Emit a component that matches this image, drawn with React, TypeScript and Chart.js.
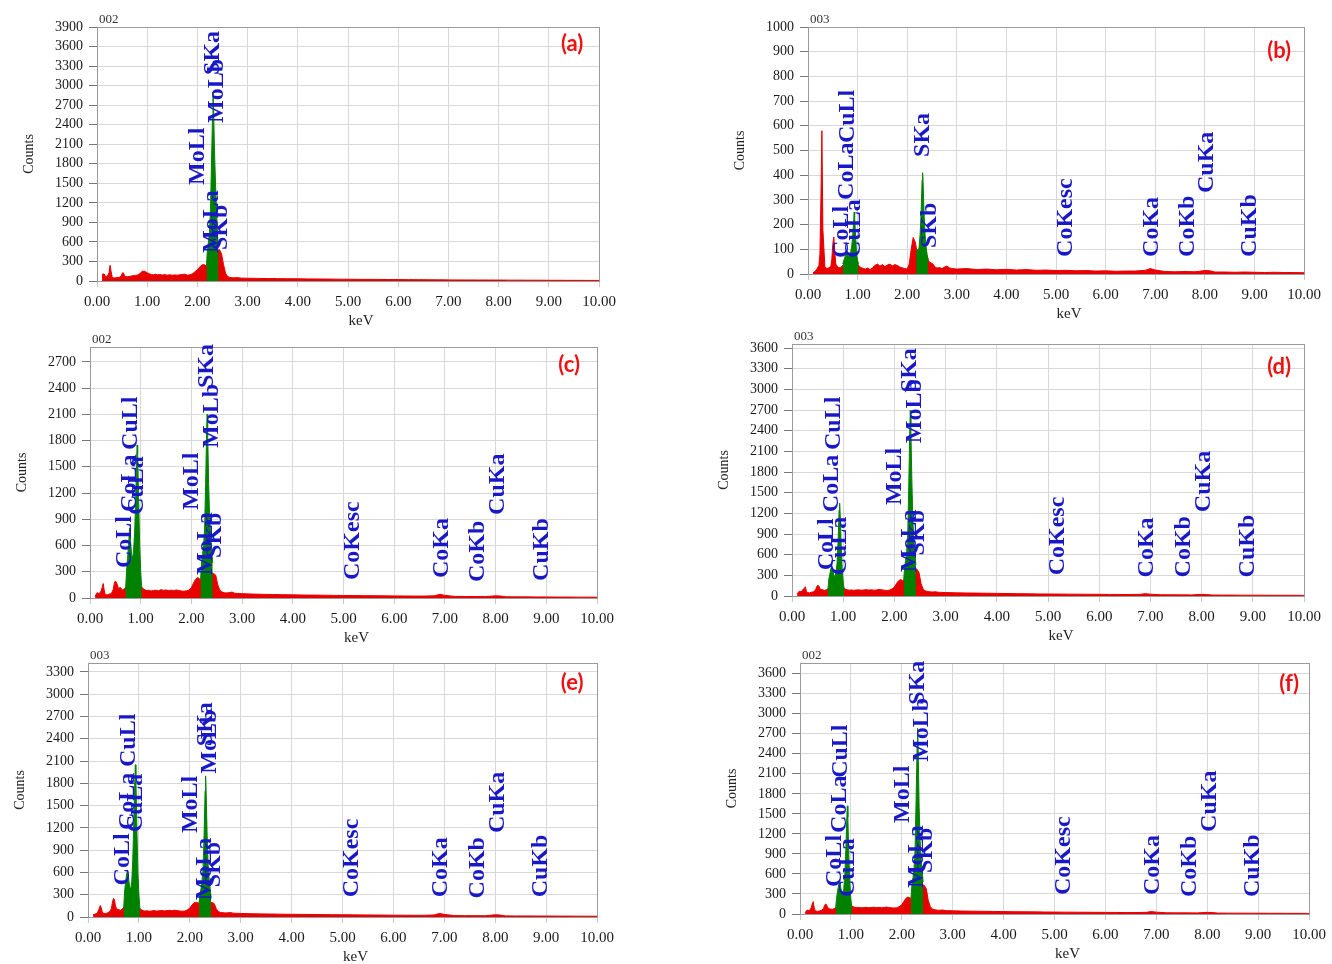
import React, { useEffect, useRef } from "react";
import { Chart, registerables } from "chart.js";
Chart.register(...registerables);

// ---------- shared energy grid (keV) ----------
const energyKeV = [
  0.10, 0.14, 0.18, 0.22, 0.24, 0.26, 0.28, 0.30, 0.34, 0.38,
  0.42, 0.46, 0.48, 0.50, 0.52, 0.54, 0.56, 0.60, 0.64, 0.68,
  0.70, 0.75, 0.80, 0.85, 0.90, 0.95, 1.00, 1.04, 1.08, 1.12,
  1.16, 1.20, 1.25, 1.30, 1.35, 1.40, 1.45, 1.50, 1.55, 1.60,
  1.65, 1.70, 1.75, 1.80, 1.85, 1.90, 1.95, 2.00, 2.04, 2.08,
  2.12, 2.16, 2.20, 2.25, 2.30, 2.35, 2.40, 2.44, 2.48, 2.52,
  2.56, 2.60, 2.65, 2.70, 2.75, 2.80, 2.85, 2.90, 3.00, 3.20,
  3.40, 3.60, 3.80, 4.00, 4.20, 4.40, 4.60, 4.80, 5.00, 5.20,
  5.40, 5.60, 5.80, 6.00, 6.20, 6.40, 6.60, 6.80, 6.90, 7.00,
  7.20, 7.40, 7.60, 7.80, 8.00, 8.10, 8.20, 8.40, 8.60, 8.80,
  9.00, 9.20, 9.40, 9.60, 9.80, 10.00,
];

// ---------- full spectra (red) ----------
const countsA = [
  100, 110, 60, 90, 130, 240, 150, 60, 45, 50,
  55, 60, 80, 115, 130, 100, 70, 65, 70, 75,
  80, 85, 90, 110, 150, 150, 125, 110, 100, 95,
  105, 95, 100, 92, 98, 90, 96, 88, 94, 90,
  95, 100, 105, 90, 95, 110, 140, 175, 210, 240,
  255, 240, 230, 300, 400, 450, 470, 480, 420, 250,
  120, 70, 55, 50, 48, 52, 46, 44, 42, 40,
  38, 36, 35, 34, 32, 31, 30, 28, 27, 26,
  25, 24, 23, 22, 21, 20, 19, 18, 18, 17,
  16, 16, 15, 15, 14, 14, 13, 13, 12, 12,
  11, 11, 10, 10, 9, 9,
];
const countsB = [
  5, 10, 20, 35, 80, 300, 580, 180, 30, 22,
  25, 30, 60, 120, 150, 90, 40, 28, 25, 30,
  35, 40, 45, 45, 50, 50, 40, 30, 25, 22,
  20, 24, 18, 25, 35, 40, 32, 38, 30, 36,
  40, 33, 38, 35, 28, 25, 22, 20, 40, 100,
  148, 130, 90, 100, 150, 120, 70, 50, 45, 40,
  28, 24, 26, 22, 28, 32, 25, 22, 20, 22,
  18, 20, 17, 19, 16, 18, 15, 16, 14, 15,
  13, 14, 12, 13, 11, 12, 12, 15, 22, 16,
  10, 9, 10, 9, 14, 13, 8, 8, 7, 8,
  7, 6, 7, 6, 6, 5,
];
const countsC = [
  20, 60, 50, 80, 120, 165, 90, 40, 35, 45,
  50, 100, 170, 195, 180, 150, 110, 120, 90, 110,
  120, 150, 150, 140, 150, 150, 140, 110, 95, 85,
  90, 80, 85, 90, 82, 95, 88, 92, 85, 90,
  84, 92, 86, 80, 78, 82, 90, 120, 170, 215,
  235, 220, 200, 250, 300, 300, 290, 280, 260, 150,
  90, 70, 60, 58, 62, 68, 55, 52, 50, 45,
  42, 40, 38, 36, 34, 33, 32, 30, 29, 28,
  27, 26, 25, 24, 23, 22, 22, 26, 42, 30,
  18, 17, 17, 16, 25, 22, 14, 13, 13, 12,
  12, 11, 11, 10, 10, 9,
];
const countsD = [
  30, 70, 60, 100, 110, 135, 70, 50, 45, 55,
  60, 90, 130, 155, 150, 120, 95, 90, 80, 95,
  110, 130, 130, 130, 140, 140, 130, 100, 90, 85,
  88, 82, 86, 90, 84, 88, 92, 86, 90, 84,
  88, 95, 90, 84, 80, 85, 100, 130, 180, 220,
  240, 225, 220, 300, 380, 400, 400, 390, 340, 180,
  100, 75, 65, 60, 58, 62, 55, 52, 50, 46,
  44, 42, 40, 38, 36, 34, 32, 30, 29, 28,
  27, 26, 25, 24, 23, 22, 22, 24, 34, 26,
  18, 17, 17, 16, 24, 20, 14, 13, 13, 12,
  12, 11, 11, 10, 10, 9,
];
const countsE = [
  30, 40, 50, 110, 155, 120, 70, 50, 45, 55,
  70, 110, 200, 250, 230, 150, 110, 100, 90, 110,
  130, 150, 150, 140, 150, 150, 130, 100, 85, 80,
  84, 78, 82, 86, 80, 84, 88, 82, 86, 90,
  84, 92, 86, 82, 78, 80, 95, 120, 160, 190,
  200, 190, 180, 200, 220, 210, 200, 195, 180, 110,
  75, 62, 58, 55, 56, 60, 52, 50, 48, 44,
  42, 40, 38, 36, 35, 34, 32, 31, 30, 29,
  28, 27, 26, 25, 24, 23, 23, 28, 48, 35,
  19, 18, 18, 17, 30, 26, 15, 14, 14, 13,
  13, 12, 12, 11, 11, 10,
];
const countsF = [
  20, 60, 50, 90, 150, 185, 90, 45, 40, 45,
  55, 80, 120, 150, 140, 110, 80, 75, 70, 85,
  100, 130, 130, 130, 140, 140, 130, 110, 100, 95,
  98, 92, 96, 100, 94, 98, 102, 96, 100, 94,
  98, 104, 98, 92, 90, 95, 110, 140, 190, 235,
  255, 240, 235, 300, 400, 430, 440, 430, 380, 200,
  110, 75, 62, 58, 56, 60, 52, 50, 48, 44,
  42, 40, 38, 36, 34, 33, 32, 30, 29, 28,
  27, 26, 25, 24, 23, 22, 22, 25, 36, 28,
  18, 17, 17, 16, 25, 22, 14, 13, 13, 12,
  12, 11, 11, 10, 10, 9,
];

// ---------- identified peak regions (green) ----------
const peakLowKeV = [0.70, 0.72, 0.74, 0.76, 0.78, 0.80, 0.82, 0.84, 0.86, 0.88, 0.90, 0.92, 0.93, 0.94, 0.96, 0.98, 1.00, 1.02];
const peakMidKeV = [2.18, 2.20, 2.22, 2.24, 2.26, 2.28, 2.30, 2.31, 2.32, 2.34, 2.36, 2.38, 2.40, 2.42];

const peakMidA = [240, 500, 600, 750, 1100, 1800, 2500, 2900, 2700, 2000, 1500, 1100, 700, 520];
const peakLowB = [40, 55, 65, 80, 90, 75, 70, 80, 90, 110, 150, 210, 250, 230, 150, 80, 55, 40];
const peakMidB = [95, 100, 90, 110, 160, 250, 380, 410, 370, 240, 160, 110, 80, 60];
const peakLowC = [80, 300, 450, 600, 800, 650, 500, 450, 550, 750, 1100, 1600, 1750, 1650, 1100, 600, 300, 110];
const peakMidC = [210, 400, 500, 600, 800, 1300, 1900, 2100, 1900, 1300, 900, 700, 550, 400];
const peakLowD = [80, 250, 320, 400, 430, 360, 300, 280, 340, 480, 800, 1250, 1350, 1200, 750, 400, 200, 90];
const peakMidD = [230, 420, 520, 650, 900, 1600, 2400, 2700, 2450, 1700, 1100, 800, 600, 450];
const peakLowE = [120, 350, 480, 580, 620, 500, 400, 380, 480, 780, 1300, 1850, 2050, 1900, 1200, 600, 300, 110];
const peakMidE = [190, 300, 380, 480, 650, 1100, 1700, 1900, 1700, 1100, 700, 500, 380, 250];
const peakLowF = [90, 250, 350, 440, 470, 400, 320, 300, 380, 580, 950, 1450, 1620, 1450, 850, 450, 220, 90];
const peakMidF = [240, 450, 550, 680, 950, 1700, 2500, 2780, 2500, 1600, 1100, 800, 620, 480];

// ---------- ticks ----------
const xTickValues = [0, 1, 2, 3, 4, 5, 6, 7, 8, 9, 10];
const xTickLabels = ["0.00", "1.00", "2.00", "3.00", "4.00", "5.00", "6.00", "7.00", "8.00", "9.00", "10.00"];
const yTicksA = [0, 300, 600, 900, 1200, 1500, 1800, 2100, 2400, 2700, 3000, 3300, 3600, 3900];
const yTicksB = [0, 100, 200, 300, 400, 500, 600, 700, 800, 900, 1000];
const yTicksC = [0, 300, 600, 900, 1200, 1500, 1800, 2100, 2400, 2700];
const yTicksD = [0, 300, 600, 900, 1200, 1500, 1800, 2100, 2400, 2700, 3000, 3300, 3600];
const yTicksE = [0, 300, 600, 900, 1200, 1500, 1800, 2100, 2400, 2700, 3000, 3300];
const yTicksF = [0, 300, 600, 900, 1200, 1500, 1800, 2100, 2400, 2700, 3000, 3300, 3600];

// ---------- line markers: energy (keV) ----------
const lineEnergy: Record<string, number> = {
  CoLl: 0.678, CoLa: 0.776, CuLl: 0.811, CuLa: 0.93,
  MoLl: 2.016, MoLa: 2.293, SKa: 2.307, MoLb: 2.395, SKb: 2.464,
  CoKesc: 5.19, CoKa: 6.93, CoKb: 7.65, CuKa: 8.04, CuKb: 8.9,
};
// [line name, counts at which the label starts]
const labelsA: [string, number][] = [["MoLl", 1475], ["MoLa", 430], ["SKb", 475], ["MoLb", 2427], ["SKa", 3164]];
const labelsB: [string, number][] = [["CoLl", 65], ["CuLa", 65], ["CoLa", 300], ["CuLl", 530], ["SKb", 105], ["SKa", 474], ["CoKesc", 69], ["CoKa", 69], ["CoKb", 69], ["CuKa", 328], ["CuKb", 69]];
const labelsC: [string, number][] = [["CoLl", 343], ["CoLa", 984], ["CuLa", 950], ["CuLl", 1693], ["MoLl", 1007], ["MoLa", 263], ["SKb", 458], ["MoLb", 1716], ["SKa", 2400], ["CoKesc", 206], ["CoKa", 229], ["CoKb", 183], ["CuKa", 950], ["CuKb", 195]];
const labelsD: [string, number][] = [["CoLl", 373], ["CuLa", 300], ["CoLa", 1218], ["CuLl", 2120], ["MoLl", 1320], ["MoLa", 345], ["SKb", 590], ["MoLb", 2220], ["SKa", 2960], ["CoKesc", 300], ["CoKa", 270], ["CoKb", 270], ["CuKa", 1218], ["CuKb", 270]];
const labelsE: [string, number][] = [["CoLl", 425], ["CoLa", 1170], ["CuLa", 1140], ["CuLl", 2020], ["MoLl", 1130], ["MoLa", 225], ["SKb", 400], ["MoLb", 1930], ["SKa", 2300], ["CoKesc", 265], ["CoKa", 265], ["CoKb", 250], ["CuKa", 1130], ["CuKb", 265]];
const labelsF: [string, number][] = [["CoLl", 405], ["CuLa", 255], ["CoLa", 1215], ["CuLl", 2040], ["MoLl", 1365], ["MoLa", 390], ["SKb", 615], ["MoLb", 2280], ["SKa", 3135], ["CoKesc", 285], ["CoKa", 285], ["CoKb", 255], ["CuKa", 1230], ["CuKb", 255]];

// ---------- layout ----------
type Box = { l: number; t: number; r: number; b: number };
type PanelCfg = {
  letter: string; sample: string; yMax: number; yTicks: number[];
  red: number[]; low: number[] | null; mid: number[]; labels: [string, number][];
  box: Box; tag: [number, number];
};

const panels: PanelCfg[] = [
  { letter: "(a)", sample: "002", yMax: 3900, yTicks: yTicksA, red: countsA, low: null, mid: peakMidA, labels: labelsA, box: { l: 97, t: 27, r: 600, b: 281 }, tag: [27, 17] },
  { letter: "(b)", sample: "003", yMax: 1000, yTicks: yTicksB, red: countsB, low: peakLowB, mid: peakMidB, labels: labelsB, box: { l: 808, t: 27, r: 1305, b: 274 }, tag: [25, 24] },
  { letter: "(c)", sample: "002", yMax: 2870, yTicks: yTicksC, red: countsC, low: peakLowC, mid: peakMidC, labels: labelsC, box: { l: 90, t: 347, r: 598, b: 598 }, tag: [28, 18] },
  { letter: "(d)", sample: "003", yMax: 3660, yTicks: yTicksD, red: countsD, low: peakLowD, mid: peakMidD, labels: labelsD, box: { l: 792, t: 344, r: 1305, b: 596 }, tag: [25, 23] },
  { letter: "(e)", sample: "003", yMax: 3420, yTicks: yTicksE, red: countsE, low: peakLowE, mid: peakMidE, labels: labelsE, box: { l: 88, t: 663, r: 598, b: 917 }, tag: [25, 20] },
  { letter: "(f)", sample: "002", yMax: 3760, yTicks: yTicksF, red: countsF, low: peakLowF, mid: peakMidF, labels: labelsF, box: { l: 800, t: 663, r: 1310, b: 914 }, tag: [20, 21] },
];

const PAD_L = 90;
const PAD_T = 26;
const PAD_R = 22;
const PAD_B = 50;

const RED = "#e80000";
const GREEN = "#008200";
const BLUE = "#1818c8";
const SERIF = '"Liberation Serif", "Times New Roman", serif';

function Panel({ cfg }: { cfg: PanelCfg }) {
  const ref = useRef<HTMLCanvasElement | null>(null);
  const w = cfg.box.r - cfg.box.l + PAD_L + PAD_R;
  const h = cfg.box.b - cfg.box.t + PAD_T + PAD_B;

  useEffect(() => {
    if (!ref.current) return;
    const datasets: any[] = [];
    if (cfg.low) {
      datasets.push({
        data: peakLowKeV.map((e, i) => ({ x: e, y: cfg.low![i] })),
        borderColor: GREEN, backgroundColor: GREEN, borderWidth: 1, fill: "origin", pointRadius: 0, tension: 0,
      });
    }
    datasets.push({
      data: peakMidKeV.map((e, i) => ({ x: e, y: cfg.mid[i] })),
      borderColor: GREEN, backgroundColor: GREEN, borderWidth: 1, fill: "origin", pointRadius: 0, tension: 0,
    });
    datasets.push({
      data: energyKeV.map((e, i) => ({ x: e, y: cfg.red[i] })),
      borderColor: RED, backgroundColor: RED, borderWidth: 1, fill: "origin", pointRadius: 0, tension: 0,
    });

    const overlay = {
      id: "overlay",
      afterDatasetsDraw(chart: any) {
        const { ctx, chartArea: a, scales } = chart;
        const xs = scales.x;
        const ys = scales.y;
        ctx.save();
        // frame
        ctx.strokeStyle = "#9a9a9a";
        ctx.lineWidth = 1;
        ctx.strokeRect(Math.round(a.left) + 0.5, Math.round(a.top) + 0.5, Math.round(a.right - a.left), Math.round(a.bottom - a.top));
        // line labels
        ctx.fillStyle = BLUE;
        ctx.font = `bold 24px ${SERIF}`;
        ctx.textAlign = "left";
        ctx.textBaseline = "middle";
        for (const [name, base] of cfg.labels) {
          const px = xs.getPixelForValue(lineEnergy[name]);
          const py = ys.getPixelForValue(base);
          ctx.save();
          ctx.translate(px, py);
          ctx.rotate(-Math.PI / 2);
          ctx.fillText(name, 0, 0);
          ctx.restore();
        }
        // panel letter
        ctx.fillStyle = "#ee1111";
        ctx.font = 'bold 22px Lato, "Liberation Sans", sans-serif';
        ctx.textAlign = "center";
        ctx.textBaseline = "middle";
        ctx.fillText(cfg.letter, a.right - cfg.tag[0], a.top + cfg.tag[1]);
        // sample id
        ctx.fillStyle = "#333";
        ctx.font = `13px ${SERIF}`;
        ctx.textAlign = "left";
        ctx.textBaseline = "bottom";
        ctx.fillText(cfg.sample, a.left + 2, a.top - 1);
        // axis titles
        ctx.fillStyle = "#222";
        ctx.font = `15px ${SERIF}`;
        ctx.textAlign = "center";
        ctx.textBaseline = "middle";
        ctx.fillText("keV", (a.left + a.right) / 2 + 13, a.bottom + 40);
        ctx.save();
        ctx.translate(a.left - 68, (a.top + a.bottom) / 2);
        ctx.rotate(-Math.PI / 2);
        ctx.font = `14px ${SERIF}`;
        ctx.fillText("Counts", 0, 0);
        ctx.restore();
        ctx.restore();
      },
    };

    const chart = new Chart(ref.current, {
      type: "line",
      data: { datasets },
      options: {
        animation: false,
        responsive: false,
        devicePixelRatio: 1,
        layout: { padding: { left: 0, top: PAD_T, right: PAD_R, bottom: 0 } },
        plugins: { legend: { display: false }, tooltip: { enabled: false }, title: { display: false } },
        scales: {
          x: {
            type: "linear",
            min: 0,
            max: 10,
            afterBuildTicks: (s: any) => { s.ticks = xTickValues.map((v) => ({ value: v })); },
            afterFit: (s: any) => { s.height = PAD_B; },
            ticks: {
              autoSkip: false,
              maxRotation: 0,
              padding: 6,
              color: "#1a1a1a",
              font: { family: SERIF, size: 15 },
              callback: (_v: any, i: number) => xTickLabels[i],
            },
            grid: { color: "#d8d8d8", lineWidth: 1, tickLength: 6, tickColor: "#c8c8c8" },
            border: { display: true, color: "#8a8a8a", width: 1 },
          },
          y: {
            type: "linear",
            min: 0,
            max: cfg.yMax,
            afterBuildTicks: (s: any) => { s.ticks = cfg.yTicks.map((v) => ({ value: v })); },
            afterFit: (s: any) => { s.width = PAD_L; },
            ticks: {
              autoSkip: false,
              padding: 6,
              color: "#1a1a1a",
              font: { family: SERIF, size: 14 },
              callback: (v: any) => String(v),
            },
            grid: { color: "#d8d8d8", lineWidth: 1, tickLength: 8, tickColor: "#777" },
            border: { display: true, color: "#8a8a8a", width: 1 },
          },
        },
      } as any,
      plugins: [overlay],
    });
    return () => chart.destroy();
  }, [cfg]);

  return (
    <canvas
      ref={ref}
      width={w}
      height={h}
      style={{ position: "absolute", left: cfg.box.l - PAD_L, top: cfg.box.t - PAD_T, width: w, height: h }}
    />
  );
}

export default function App() {
  return (
    <div style={{ position: "absolute", left: 0, top: 0, width: 1332, height: 964, overflow: "hidden", background: "#fff" }}>
      {panels.map((p) => (
        <Panel key={p.letter} cfg={p} />
      ))}
    </div>
  );
}
